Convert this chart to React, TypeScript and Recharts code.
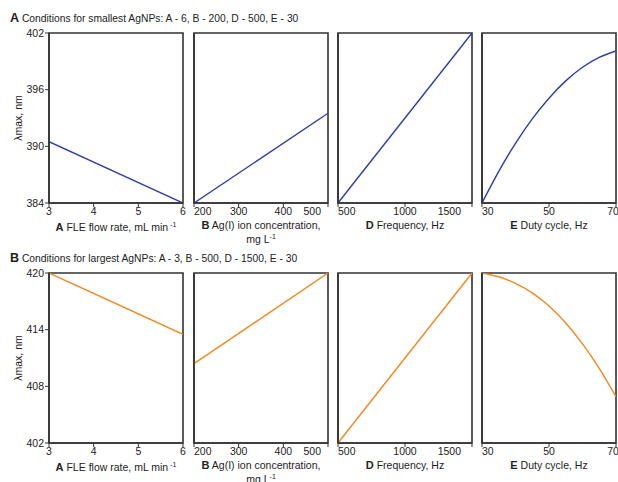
import React from 'react';
import { LineChart, Line, XAxis, YAxis, ReferenceArea } from 'recharts';

// x values for each factor
const FLOW = [3, 6];
const CONC = [200, 500];
const FREQ = [500, 1500];
const DUTY = [30, 35, 40, 45, 50, 55, 60, 65, 70];

// lambda max, smallest AgNPs (panel A)
const SMALL_FLOW = [390.5, 384];
const SMALL_CONC = [384, 393.5];
const SMALL_FREQ = [384, 402];
const SMALL_DUTY = [384, 387.35, 390.32, 392.91, 395.1, 396.93, 398.37, 399.42, 400.1];

// lambda max, largest AgNPs (panel B)
const LARGE_FLOW = [420, 413.5];
const LARGE_CONC = [410.4, 420];
const LARGE_FREQ = [402, 420];
const LARGE_DUTY = [420, 419.6, 418.9, 417.9, 416.5, 414.7, 412.5, 409.9, 406.9];

const FLOW_TICKS = [3, 4, 5, 6];
const CONC_TICKS = [200, 300, 400, 500];
const FREQ_TICKS = [500, 1000, 1500];
const DUTY_TICKS = [30, 50, 70];
const SMALL_TICKS = [384, 390, 396, 402];
const LARGE_TICKS = [402, 408, 414, 420];

const FONT = '"Liberation Sans", Arial, Helvetica, sans-serif';
const INK = '#333';
const BLUE = '#2d3daa';
const ORANGE = '#f2871c';
const FS = 10.5;

const PW = 134;
const PH = 170;
const COLS = [49, 194, 338, 482];
const ROWS = [33, 273];

type Anchor = 'start' | 'middle' | 'end';

const makeTick = (first: number, last: number, firstA: Anchor, lastA: Anchor) => (props: any) => {
  const { x, y, payload } = props;
  let anchor: Anchor = 'middle';
  if (payload.value === first) anchor = firstA;
  if (payload.value === last) anchor = lastA;
  return (
    <text x={x} y={y} dy="0.71em" textAnchor={anchor} fontSize={FS} fontFamily={FONT} fill="#222">
      {payload.value}
    </text>
  );
};

interface PanelProps {
  xs: number[];
  ys: number[];
  xTicks: number[];
  yTicks: number[];
  color: string;
  col: number;
  row: number;
  showY: boolean;
  firstA: Anchor;
  lastA: Anchor;
  curved?: boolean;
}

const Panel = ({ xs, ys, xTicks, yTicks, color, col, row, showY, firstA, lastA, curved }: PanelProps) => {
  const data = xs.map((x, i) => ({ x, y: ys[i] }));
  const xd: [number, number] = [xTicks[0], xTicks[xTicks.length - 1]];
  const yd: [number, number] = [yTicks[0], yTicks[yTicks.length - 1]];
  return (
    <div style={{ position: 'absolute', left: COLS[col] - 45, top: ROWS[row] - 5 }}>
      <LineChart width={45 + PW + 5} height={5 + PH + 30} data={data} margin={{ top: 5, right: 5, bottom: 0, left: 0 }}>
        <XAxis
          dataKey="x"
          type="number"
          domain={xd}
          ticks={xTicks}
          allowDataOverflow
          height={30}
          tickSize={4}
          tickMargin={1}
          axisLine={{ stroke: INK, strokeWidth: 1.6 }}
          tickLine={{ stroke: INK }}
          tick={makeTick(xd[0], xd[1], firstA, lastA)}
        />
        <YAxis
          type="number"
          domain={yd}
          ticks={yTicks}
          allowDataOverflow
          width={45}
          tickSize={4}
          tickMargin={1}
          axisLine={{ stroke: INK, strokeWidth: 1.6 }}
          tickLine={{ stroke: INK }}
          tick={showY ? { fontSize: FS, fontFamily: FONT, fill: '#222' } : false}
        />
        <ReferenceArea x1={xd[0]} x2={xd[1]} y1={yd[0]} y2={yd[1]} fill="none" stroke={INK} strokeWidth={1.6} strokeOpacity={1} />
        <Line
          dataKey="y"
          type={curved ? 'natural' : 'linear'}
          stroke={color}
          strokeWidth={1.4}
          dot={false}
          isAnimationActive={false}
        />
      </LineChart>
    </div>
  );
};

const txt: React.CSSProperties = { position: 'absolute', fontFamily: FONT, fontSize: FS, color: '#222', whiteSpace: 'nowrap', lineHeight: '12px' };

const XLabel = ({ col, row, bold, text, sup, line2 }: { col: number; row: number; bold: string; text: string; sup?: string; line2?: React.ReactNode }) => (
  <div style={{ ...txt, left: COLS[col] - 10, width: PW + 20, top: ROWS[row] + PH + 16, textAlign: 'center' }}>
    <b style={{ fontSize: 11 }}>{bold}</b> {text}
    {sup && <sup style={{ fontSize: 7, verticalAlign: 4, marginLeft: 2 }}>{sup}</sup>}
    {line2 && <div style={{ marginTop: 0 }}>{line2}</div>}
  </div>
);

const Row = ({ row, letter, title, color, ys, yTicks }: any) => (
  <>
    <div style={{ ...txt, left: 10, top: ROWS[row] - 21, fontSize: 10.3 }}>
      <b style={{ fontSize: 12.5 }}>{letter}</b> {title}
    </div>
    <div style={{ ...txt, left: 18 - 40, width: 80, top: ROWS[row] + PH / 2 - 6, textAlign: 'center', transform: 'rotate(-90deg)' }}>
      λmax, nm
    </div>
    <Panel xs={FLOW} ys={ys[0]} xTicks={FLOW_TICKS} yTicks={yTicks} color={color} col={0} row={row} showY firstA="middle" lastA="middle" />
    <Panel xs={CONC} ys={ys[1]} xTicks={CONC_TICKS} yTicks={yTicks} color={color} col={1} row={row} showY={false} firstA="start" lastA="end" />
    <Panel xs={FREQ} ys={ys[2]} xTicks={FREQ_TICKS} yTicks={yTicks} color={color} col={2} row={row} showY={false} firstA="start" lastA="end" />
    <Panel xs={DUTY} ys={ys[3]} xTicks={DUTY_TICKS} yTicks={yTicks} color={color} col={3} row={row} showY={false} firstA="start" lastA="middle" curved />
    <XLabel col={0} row={row} bold="A" text="FLE flow rate, mL min" sup="-1" />
    <XLabel col={1} row={row} bold="B" text="Ag(I) ion concentration," line2={<span>mg L<sup style={{ fontSize: 7, verticalAlign: 4 }}>-1</sup></span>} />
    <XLabel col={2} row={row} bold="D" text="Frequency, Hz" />
    <XLabel col={3} row={row} bold="E" text="Duty cycle, Hz" />
  </>
);

export default function App() {
  return (
    <div style={{ position: 'absolute', left: 0, top: 0, width: 618, height: 482, overflow: 'hidden', background: '#fff' }}>
      <Row
        row={0}
        letter="A"
        title="Conditions for smallest AgNPs: A - 6, B - 200, D - 500, E - 30"
        color={BLUE}
        ys={[SMALL_FLOW, SMALL_CONC, SMALL_FREQ, SMALL_DUTY]}
        yTicks={SMALL_TICKS}
      />
      <Row
        row={1}
        letter="B"
        title="Conditions for largest AgNPs: A - 3, B - 500, D - 1500, E - 30"
        color={ORANGE}
        ys={[LARGE_FLOW, LARGE_CONC, LARGE_FREQ, LARGE_DUTY]}
        yTicks={LARGE_TICKS}
      />
    </div>
  );
}
